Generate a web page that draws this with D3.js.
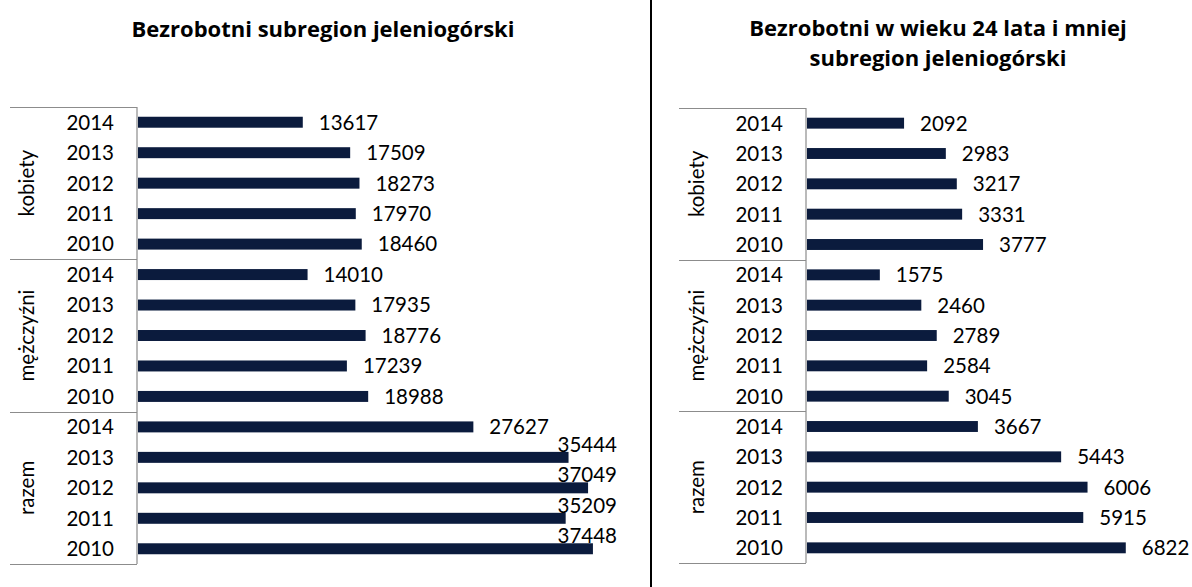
<!DOCTYPE html>
<html>
<head>
<meta charset="utf-8">
<script src="https://cdn.jsdelivr.net/npm/d3@7"></script>
<style>
  body { margin: 0; background: #fff; }
  text { font-family: Lato, "Open Sans", sans-serif; fill: #000; }
</style>
</head>
<body>
<div id="chart"></div>
<script>
// categories
var years = ["2014", "2013", "2012", "2011", "2010"];
var groups = ["kobiety", "mężczyźni", "razem"];

// left panel: all unemployed
var allKobiety = [13617, 17509, 18273, 17970, 18460];
var allMezczyzni = [14010, 17935, 18776, 17239, 18988];
var allRazem = [27627, 35444, 37049, 35209, 37448];

// right panel: aged 24 and less
var youngKobiety = [2092, 2983, 3217, 3331, 3777];
var youngMezczyzni = [1575, 2460, 2789, 2584, 3045];
var youngRazem = [3667, 5443, 6006, 5915, 6822];

var W = 1192, H = 587,
	BAR_COLOR = "#0b1b3d",
	AXIS_COLOR = "#8c8c8c",
	FONT_SIZE = 20.5,
	TITLE_SIZE = 22;

var svg = d3.select("#chart").append("svg")
	.attr("width", W)
	.attr("height", H);

// build rows from the arrays
function makeRows(series) {
	var rows = [];
	groups.forEach(function(g, gi) {
		years.forEach(function(y, yi) {
			rows.push({ group: g, year: y, key: g + "|" + y, value: series[gi][yi] });
		});
	});
	return rows;
}

function drawPanel(p) {
	var rows = makeRows(p.series);
	var g = svg.append("g");

	var y = d3.scaleBand()
		.domain(rows.map(function(d) { return d.key; }))
		.range([p.top, p.bottom])
		.paddingInner(0.64)
		.paddingOuter(0.32);
	var x = d3.scaleLinear()
		.domain([0, p.max])
		.range([p.axisX, p.right]);

	var groupH = (p.bottom - p.top) / groups.length;

	// title, one text per line
	g.selectAll(".title")
		.data(p.title)
		.enter().append("text")
		.attr("class", "title")
		.attr("x", p.titleX)
		.attr("y", function(d, i) { return p.titleY + i * 30; })
		.attr("text-anchor", "middle")
		.style("font-family", "'Open Sans', sans-serif")
		.style("font-weight", "bold")
		.style("font-size", TITLE_SIZE + "px")
		.text(function(d) { return d; });

	// axis frame lines
	g.append("line")
		.attr("x1", p.axisX).attr("x2", p.axisX)
		.attr("y1", p.top).attr("y2", p.bottom)
		.attr("stroke", AXIS_COLOR).attr("stroke-width", 1.2);
	g.selectAll(".sep")
		.data(d3.range(groups.length + 1))
		.enter().append("line")
		.attr("class", "sep")
		.attr("x1", p.leftX).attr("x2", p.axisX)
		.attr("y1", function(i) { return Math.round(p.top + i * groupH) + 0.5; })
		.attr("y2", function(i) { return Math.round(p.top + i * groupH) + 0.5; })
		.attr("stroke", AXIS_COLOR).attr("stroke-width", 1.2);

	// year labels
	g.selectAll(".year")
		.data(rows)
		.enter().append("text")
		.attr("class", "year")
		.attr("x", p.axisX - 23)
		.attr("y", function(d) { return y(d.key) + y.bandwidth() / 2; })
		.attr("dy", "0.36em")
		.attr("text-anchor", "end")
		.style("font-size", FONT_SIZE + "px")
		.text(function(d) { return d.year; });

	// group labels (rotated)
	g.selectAll(".grp")
		.data(groups)
		.enter().append("text")
		.attr("class", "grp")
		.attr("transform", function(d, i) {
			return "translate(" + p.groupX + "," + (p.top + (i + 0.5) * groupH) + ") rotate(-90)";
		})
		.attr("text-anchor", "middle")
		.attr("dy", "0.36em")
		.style("font-size", FONT_SIZE + "px")
		.text(function(d) { return d; });

	// bars
	g.selectAll(".bar")
		.data(rows)
		.enter().append("rect")
		.attr("class", "bar")
		.attr("x", p.axisX + 1)
		.attr("y", function(d) { return y(d.key); })
		.attr("width", function(d) { return x(d.value) - p.axisX - 1; })
		.attr("height", y.bandwidth())
		.attr("fill", BAR_COLOR);

	// value labels
	var labels = g.selectAll(".val")
		.data(rows)
		.enter().append("text")
		.attr("class", "val")
		.attr("x", function(d) { return x(d.value) + 16; })
		.attr("y", function(d) { return y(d.key) + y.bandwidth() / 2; })
		.attr("dy", "0.36em")
		.style("font-size", FONT_SIZE + "px")
		.text(function(d) { return d.value; });

	// labels that do not fit are pushed inside the plot area, above the bar
	labels.each(function(d) {
		var t = d3.select(this);
		var w = this.getComputedTextLength();
		if (x(d.value) + 16 + w > p.labelLimit) {
			t.attr("x", p.labelLimit)
				.attr("text-anchor", "end")
				.attr("y", y(d.key) + y.bandwidth() / 2 - 13);
		}
	});
}

drawPanel({
	series: [allKobiety, allMezczyzni, allRazem],
	title: ["Bezrobotni subregion jeleniogórski"],
	titleX: 323, titleY: 37,
	leftX: 10, axisX: 137, groupX: 27,
	top: 107, bottom: 564,
	max: 40000, right: 624, labelLimit: 617
});

drawPanel({
	series: [youngKobiety, youngMezczyzni, youngRazem],
	title: ["Bezrobotni w wieku 24 lata i mniej", "subregion jeleniogórski"],
	titleX: 938, titleY: 36,
	leftX: 679, axisX: 806, groupX: 697,
	top: 108, bottom: 563,
	max: 8000, right: 1181, labelLimit: 1192
});

// divider between the two charts
svg.append("line")
	.attr("x1", 651).attr("x2", 651)
	.attr("y1", 0).attr("y2", H)
	.attr("stroke", "#000").attr("stroke-width", 2);
</script>
</body>
</html>
